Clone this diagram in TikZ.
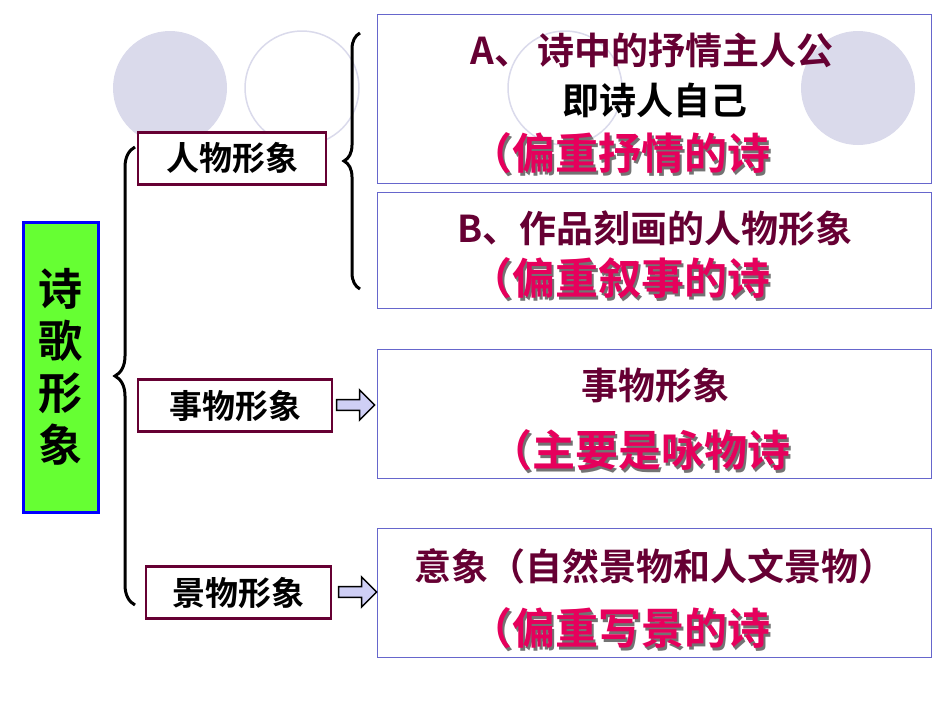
\documentclass[tikz,border=0pt]{standalone}
\usepackage{fontspec}
\newfontfamily\cjk{Noto Sans CJK SC Bold}
\usetikzlibrary{shapes.arrows,decorations.pathreplacing}
\definecolor{maroon}{HTML}{660033}
\definecolor{crim}{HTML}{E6005C}
\definecolor{lav}{HTML}{DADAEB}
\definecolor{bbl}{HTML}{6666CC}
\definecolor{gbox}{HTML}{66FF33}
\tikzset{
 catbox/.style={draw=maroon,line width=2.5pt,fill=white,minimum height=52pt,inner sep=0pt,font=\cjk\fontsize{33}{33}\selectfont},
 bigbox/.style={draw=bbl,line width=0.8pt,inner sep=0pt},
 mtxt/.style={text=maroon,font=\cjk\fontsize{37}{37}\selectfont},
 rtxt/.style={text=crim,font=\cjk\fontsize{43}{43}\selectfont},
 shad/.style={text=black!55,font=\cjk\fontsize{43}{43}\selectfont},
 barrow/.style={single arrow,draw=black,line width=1.5pt,fill=lav!80!blue!60,minimum height=38pt,minimum width=30pt,single arrow head extend=5pt,inner sep=2pt},
 brc/.style={draw=black,line width=3pt,decorate,decoration={brace,amplitude=#1}}
}
\begin{document}
\begin{tikzpicture}[x=1pt,y=-1pt]
\useasboundingbox (0,0) rectangle (950,713);
\fill[lav] (170,88) circle (57);
\draw[lav,line width=1.5pt] (302,88) circle (57);
\draw[lav,line width=1.5pt] (565,88) circle (57);
\fill[lav] (858,88) circle (57);
% right boxes
\node[bigbox,minimum width=554pt,minimum height=169pt] (ba) at (654,98.5) {};
\node[bigbox,minimum width=554pt,minimum height=116pt] (bb) at (654,250) {};
\node[bigbox,minimum width=554pt,minimum height=129pt] (bc) at (654,413.5) {};
\node[bigbox,minimum width=554pt,minimum height=129pt] (bd) at (654,592.5) {};
% main
\node[draw=blue,line width=3pt,fill=gbox,minimum width=75pt,minimum height=290pt,inner sep=0pt,align=center,font=\cjk\fontsize{44}{52}\selectfont] (main) at (60.5,367) {诗\\歌\\形\\象};
\node[catbox,minimum width=188pt] (c1) at (232,158.5) {人物形象};
\node[catbox,minimum width=194pt] (c2) at (235,405.5) {事物形象};
\node[catbox,minimum width=185pt] (c3) at (238.5,592.5) {景物形象};
% braces
\coordinate (lt) at (135,147); \coordinate (lb) at (135,605);
\draw[brc=20pt] (lb) -- (lt);
\coordinate (rt) at (360,33); \coordinate (rb) at (360,289);
\draw[brc=16pt] (rb) -- (rt);
% arrows
\node[barrow] (a1) at (353,405) {};
\node[barrow] (a2) at (355,592) {};
% texts
\node[mtxt] (ta1) at (652,50) {A、\,诗中的抒情主人公};
\node[font=\cjk\fontsize{37}{37}\selectfont] (ta2) at (655,100) {即诗人自己};
\node[shad] at (622,156) {（偏重抒情的诗};
\node[rtxt] (ta3) at (620,153) {（偏重抒情的诗};
\node[mtxt] (tb1) at (655,228) {B、作品刻画的人物形象};
\node[shad] at (622,281) {（偏重叙事的诗};
\node[rtxt] (tb2) at (620,278) {（偏重叙事的诗};
\node[mtxt] (tc1) at (655,385) {事物形象};
\node[shad] at (642,453) {（主要是咏物诗};
\node[rtxt] (tc2) at (640,450) {（主要是咏物诗};
\node[mtxt] (td1) at (655,566) {意象（自然景物和人文景物）};
\node[shad] at (622,631) {（偏重写景的诗};
\node[rtxt] (td2) at (620,628) {（偏重写景的诗};
\end{tikzpicture}
\end{document}
